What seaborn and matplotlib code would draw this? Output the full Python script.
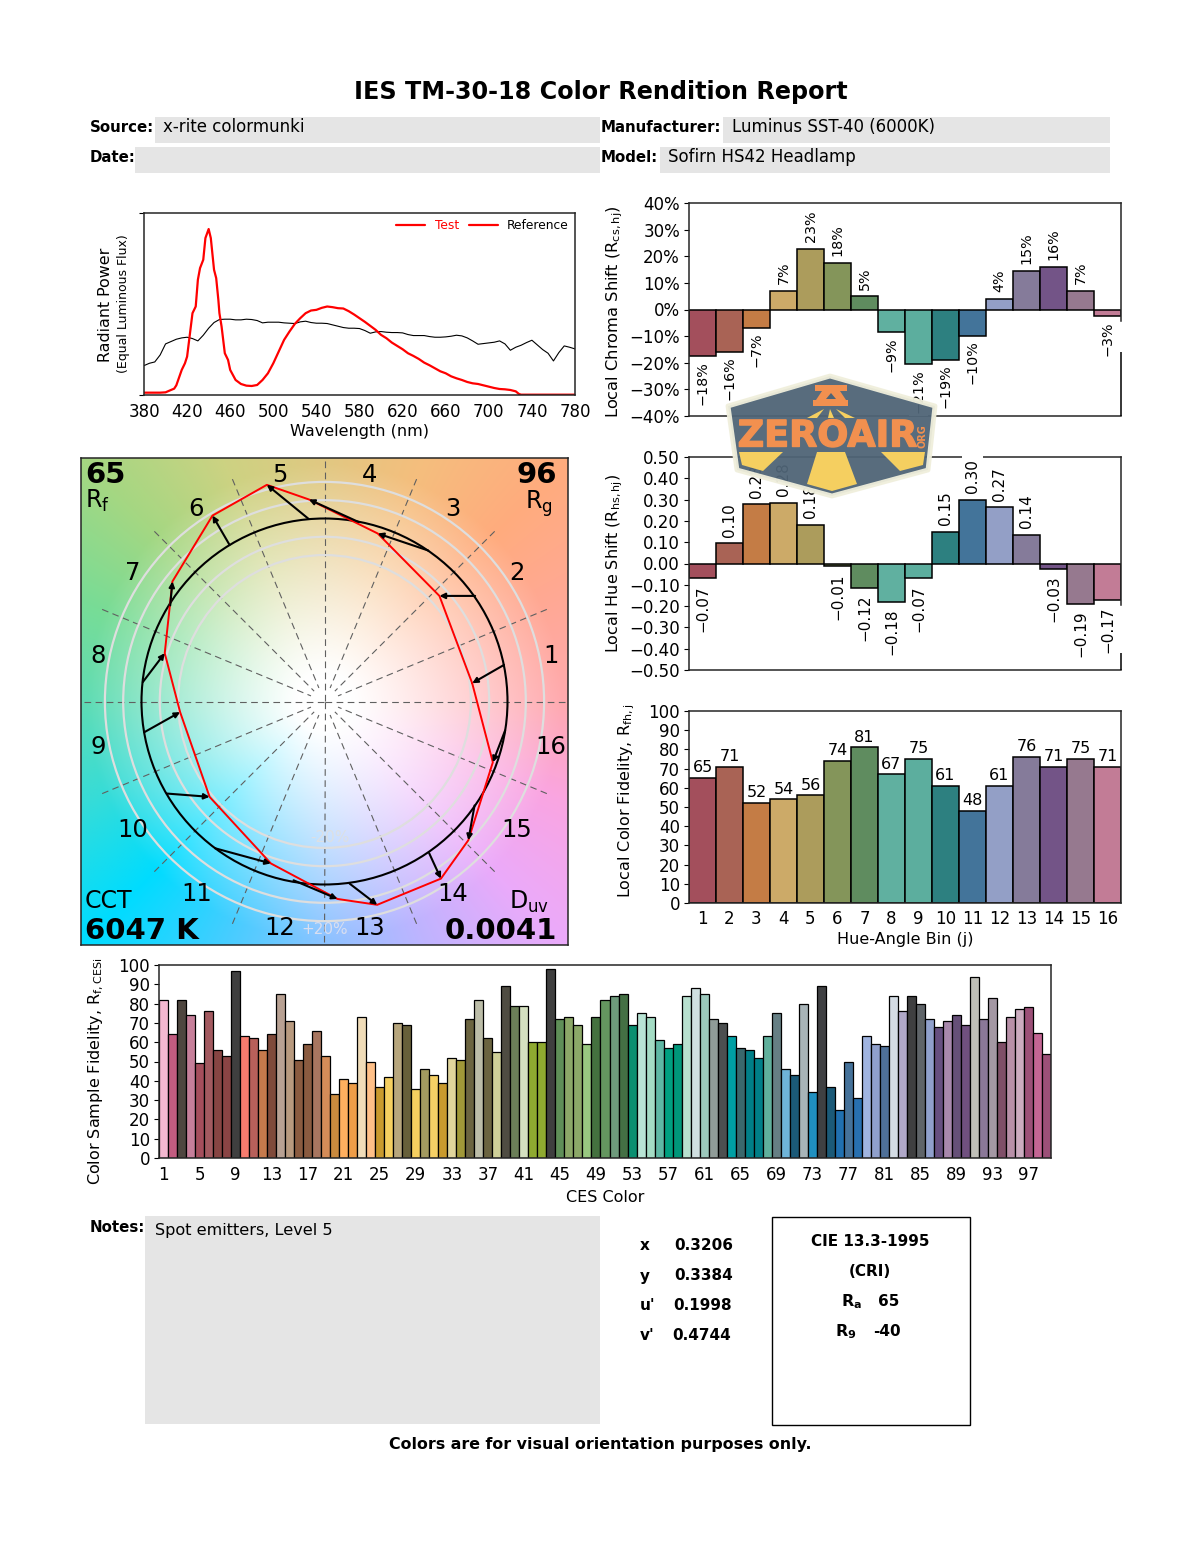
import matplotlib
matplotlib.use('Agg')
import matplotlib.pyplot as plt
import matplotlib.patheffects as pe
from matplotlib.lines import Line2D
from matplotlib.patches import Circle, Polygon, Rectangle
import numpy as np
import pandas as pd
import seaborn as sns

# spectrum, power in arbitrary units
test_wl = [380, 385, 390, 395, 400, 405, 408, 410, 415, 418, 420, 425, 428, 430, 432, 435, 437, 440, 442, 445,
           447, 449, 450, 452, 455, 458, 460, 465, 470, 475, 480, 485, 490, 495, 500, 505, 510, 515, 520, 525,
           530, 535, 540, 545, 550, 555, 560, 565, 570, 575, 580, 585, 590, 595, 600, 605, 610, 615, 620, 625,
           630, 635, 640, 645, 650, 655, 660, 665, 670, 675, 680, 685, 690, 695, 700, 705, 710, 715, 720, 725,
           728, 730, 740, 750, 760, 770, 780]
test_power = [7, 7, 7, 7, 8, 15, 19, 29, 75, 95, 115, 245, 265, 345, 380, 405, 470, 497, 470, 375,
              350, 285, 245, 205, 125, 105, 75, 45, 33, 28, 27, 30, 45, 65, 95, 130, 165, 190, 213, 230,
              245, 253, 255, 261, 265, 263, 260, 259, 251, 241, 230, 219, 207, 195, 180, 170, 157, 147, 137, 125,
              117, 108, 97, 89, 80, 71, 65, 56, 50, 45, 39, 35, 33, 29, 25, 21, 18, 17, 15, 11,
              3, 1, 1, 1, 1, 1, 1]
ref_wl = list(range(380, 785, 5))
ref_power = [88, 95, 99, 120, 153, 160, 167, 171, 173, 169, 162, 179, 200, 217, 226, 227, 227, 225, 225, 227,
             226, 223, 216, 218, 218, 218, 216, 215, 214, 219, 221, 217, 215, 215, 214, 210, 206, 202, 200, 200,
             199, 193, 185, 189, 190, 188, 187, 187, 186, 181, 178, 178, 178, 175, 173, 173, 174, 176, 179, 177,
             171, 162, 152, 154, 156, 158, 162, 153, 134, 143, 149, 157, 164, 150, 136, 125, 102, 127, 147, 143, 138]
wl_ticks = list(range(380, 820, 40))

# hue-angle bins
bin_labels = [str(i) for i in range(1, 17)]
bin_colors = ['#A34F5C', '#A96355', '#C47C45', '#CCAA68', '#AC9C5C', '#84955A', '#5F8C5F', '#60B0A0',
              '#5CAE9E', '#2D8080', '#43749A', '#939FC6', '#857B9A', '#735487', '#96798F', '#C27C96']
chroma_shift = [-17.6, -15.8, -6.8, 6.8, 22.9, 17.6, 4.9, -8.6, -20.6, -18.8, -9.8, 3.8, 14.6, 15.8, 6.8, -2.6]
chroma_text = ['\u221218%', '\u221216%', '\u22127%', '7%', '23%', '18%', '5%', '\u22129%',
               '\u221221%', '\u221219%', '\u221210%', '4%', '15%', '16%', '7%', '\u22123%']
hue_shift = [-0.07, 0.094, 0.277, 0.282, 0.183, -0.014, -0.113, -0.179,
             -0.07, 0.146, 0.30, 0.263, 0.136, -0.024, -0.188, -0.17]
hue_text = ['\u22120.07', '0.10', '0.28', '0.28', '0.18', '\u22120.01', '\u22120.12', '\u22120.18',
            '\u22120.07', '0.15', '0.30', '0.27', '0.14', '\u22120.03', '\u22120.19', '\u22120.17']
fidelity_bins = [65, 71, 52, 54, 56, 74, 81, 67, 75, 61, 48, 61, 76, 71, 75, 71]

# CES samples
ces_labels = [str(i) for i in range(1, 100)]
ces_values = [82, 64, 82, 74, 49, 76, 56, 53, 97, 63, 62, 56, 64, 85, 71, 51, 59, 66, 53, 33,
              41, 39, 73, 50, 37, 42, 70, 69, 36, 46, 43, 39, 52, 51, 72, 82, 62, 55, 89, 79,
              79, 60, 60, 98, 72, 73, 69, 59, 73, 82, 84, 85, 69, 75, 73, 61, 57, 59, 84, 88,
              85, 72, 70, 63, 57, 56, 52, 63, 75, 46, 43, 80, 34, 89, 37, 25, 50, 31, 63, 59,
              58, 84, 76, 84, 80, 72, 68, 71, 74, 69, 94, 72, 83, 60, 73, 77, 78, 65, 54]
ces_colors = ['#F4B8D0', '#C25C80', '#4E463F', '#C67F9A', '#A54E5C', '#A35A60', '#874543', '#8A4444', '#3F3F3F',
              '#F77C6E', '#B8605A', '#C67A4C', '#7F4A3A', '#B8A193', '#B89A7F', '#8A5B40', '#8A5B40', '#A87660',
              '#D58C58', '#C98A3E', '#FFB05F', '#EE9D48', '#F0DCB8', '#FFC088', '#C99A2D', '#F5CF60', '#B7A67D',
              '#67603A', '#F5CF60', '#A39A60', '#F5D065', '#C99A2D', '#E0D59C', '#A09838', '#6B6440', '#BCBDA8',
              '#6B6440', '#CFD098', '#4F4C42', '#6B7F58', '#D4E0C0', '#8FAA30', '#8FAA30', '#3F3F3F', '#5F8F58',
              '#8CA868', '#8CA868', '#98C880', '#44713F', '#64965F', '#6E9A7C', '#447044', '#0A8F70', '#B8E4D4',
              '#A4DCC4', '#5FB8A4', '#00A080', '#00977A', '#B8E0CF', '#D0DFE0', '#9CC8BC', '#909C98', '#4C4F50',
              '#00A0A4', '#3A686C', '#007F88', '#007F88', '#60B09C', '#667F84', '#6FB4D8', '#1B5A78', '#A8B4B8',
              '#2090C0', '#3F4042', '#1B5A78', '#2070B0', '#45729A', '#2870B0', '#A0B4E0', '#90A0CC', '#4F7098',
              '#D4DCE4', '#B0A8C8', '#3F3F40', '#5F6468', '#90A0CC', '#664F80', '#A888AC', '#665078', '#70507F',
              '#C0C0B8', '#8B7898', '#A498A4', '#7F4F68', '#B890A8', '#CCACC0', '#9C5078', '#C46694', '#9C5078']

# colour vector graphic, radius 1 = reference
ref_x = [0.981, 0.823, 0.567, 0.186, -0.087, -0.519, -0.843, -0.993,
         -0.985, -0.862, -0.598, -0.169, 0.137, 0.572, 0.820, 0.987]
ref_y = [0.200, 0.577, 0.825, 0.981, 0.998, 0.856, 0.525, 0.106,
         -0.168, -0.503, -0.802, -0.977, -0.995, -0.829, -0.568, -0.158]
test_x = [0.807, 0.628, 0.291, -0.085, -0.315, -0.612, -0.831, -0.873,
          -0.789, -0.628, -0.293, 0.071, 0.288, 0.636, 0.786, 0.920]
test_y = [0.100, 0.577, 0.918, 1.104, 1.184, 1.016, 0.656, 0.264,
          -0.058, -0.521, -0.885, -1.079, -1.111, -0.968, -0.758, -0.332]
bg_angles = [0, 22.5, 45, 67.5, 90, 112.5, 135, 157.5, 180, 202.5, 225, 247.5, 270, 292.5, 315, 337.5, 360]
bg_colors = [(255, 170, 175), (255, 168, 150), (255, 172, 125), (245, 190, 125), (225, 200, 130), (205, 210, 130),
             (165, 215, 130), (120, 220, 150), (95, 220, 180), (55, 220, 215), (0, 220, 255), (70, 205, 255),
             (140, 195, 255), (190, 180, 255), (235, 170, 250), (250, 165, 225), (255, 170, 175)]

sns.set_style('ticks')
plt.rcParams['font.family'] = ['DejaVu Sans']
plt.rcParams['mathtext.default'] = 'regular'
plt.rcParams['axes.linewidth'] = 1.1
plt.rcParams['xtick.labelsize'] = 12
plt.rcParams['ytick.labelsize'] = 12
plt.rcParams['axes.labelsize'] = 11.5
plt.rcParams['axes.labelcolor'] = 'black'
plt.rcParams['xtick.color'] = 'black'
plt.rcParams['ytick.color'] = 'black'
plt.rcParams['text.color'] = 'black'

W, H = 1200, 1550
fig = plt.figure(figsize=(W / 100, H / 100), dpi=100, facecolor='white')


def px_axes(left, top, right, bottom, **kw):
    return fig.add_axes([left / W, 1 - bottom / H, (right - left) / W, (bottom - top) / H], **kw)


# page layer: header boxes and free text
page = px_axes(0, 0, W, H)
page.set_xlim(0, W)
page.set_ylim(H, 0)
page.axis('off')
for x0, y0, x1, y1 in [(155, 117, 600, 143), (723, 117, 1110, 143), (135, 147, 600, 173),
                       (660, 147, 1110, 173), (145, 1216, 600, 1424)]:
    page.add_patch(Rectangle((x0, y0), x1 - x0, y1 - y0, fc='#E5E5E5', ec='none'))
page.add_patch(Rectangle((771.5, 1216.5), 198, 208, fc='none', ec='black', lw=1))


def put(x, y, s, size=10.8, bold=True, ha='left'):
    page.text(x, y, s, fontsize=size, fontweight='bold' if bold else 'normal', ha=ha, va='center')


put(600.5, 92, 'IES TM-30-18 Color Rendition Report', size=17.2, ha='center')
put(90, 127, 'Source:')
put(163, 127, 'x-rite colormunki', bold=False, size=12)
put(601, 127, 'Manufacturer:')
put(732, 127, 'Luminus SST-40 (6000K)', bold=False, size=12)
put(90, 157, 'Date:')
put(601, 157, 'Model:')
put(668, 157, 'Sofirn HS42 Headlamp', bold=False, size=12)
put(90, 1227, 'Notes:')
put(155, 1231, 'Spot emitters, Level 5', bold=False, size=11.6)
for ty, name, val, vx in [(1246, 'x', '0.3206', 674), (1276, 'y', '0.3384', 674),
                          (1306, "u'", '0.1998', 673), (1336, "v'", '0.4744', 672)]:
    put(640, ty, name, size=11)
    put(vx, ty, val, size=11)
put(870, 1241, 'CIE 13.3-1995', size=11, ha='center')
put(870, 1271, '(CRI)', size=11, ha='center')
put(841, 1302, r'$\mathbf{R_a}$', size=11.5)
put(878, 1301, '65', size=11)
put(835, 1332, r'$\mathbf{R_9}$', size=11.5)
put(873, 1331, '-40', size=11)
put(600.5, 1445, 'Colors are for visual orientation purposes only.', size=11.4, ha='center')

# spectrum
ax = px_axes(144, 213, 575, 395)
sns.lineplot(x=ref_wl, y=ref_power, color='black', lw=0.8, ax=ax)
sns.lineplot(x=test_wl, y=test_power, color='red', lw=1.6, ax=ax)
ax.set_xlim(380, 780)
ax.set_ylim(0, 545)
ax.set_xticks(wl_ticks)
ax.set_yticks([0, 545])
ax.set_yticklabels([])
ax.tick_params(axis='x', length=0, pad=6)
ax.tick_params(axis='y', length=3.5)
ax.set_xlabel('Wavelength (nm)', labelpad=2)
leg = ax.legend(handles=[Line2D([], [], color='red', lw=1.6), Line2D([], [], color='red', lw=1.6)],
                labels=['Test', 'Reference'], ncol=2, frameon=False, fontsize=8.8, loc='upper right',
                handlelength=2.4, handletextpad=0.75, columnspacing=0.8, borderaxespad=0.1)
leg.get_texts()[0].set_color('red')
page.text(105, 305, 'Radiant Power', rotation=90, fontsize=11.4, ha='center', va='center')
page.text(123, 304, '(Equal Luminous Flux)', rotation=90, fontsize=9, ha='center', va='center')

# colour vector graphic
ax = px_axes(81, 458, 568, 945)
lim = 243.5 / 183
grid_y, grid_x = np.mgrid[-lim:lim:500j, -lim:lim:500j]
radius = np.hypot(grid_x, grid_y)
angle = np.degrees(np.arctan2(grid_y, grid_x)) % 360
blend = np.clip((radius - 0.15) / 1.15, 0, 1) ** 1.1
image = np.zeros(radius.shape + (3,))
for c in range(3):
    edge = np.interp(angle, bg_angles, [col[c] / 255 for col in bg_colors])
    image[..., c] = 1 + (edge - 1) * blend
ax.imshow(image, extent=(-lim, lim, -lim, lim), origin='lower', interpolation='bilinear', aspect='equal')
for k in range(16):
    a = np.radians(k * 22.5)
    start = 0.0 if k % 4 == 0 else 0.08
    ax.plot([1.315 * np.cos(a), start * np.cos(a)], [1.315 * np.sin(a), start * np.sin(a)],
            color='#606060', lw=0.8, ls=(0, (6, 4)), zorder=2)
for r in [0.8, 0.9, 1.1, 1.2]:
    ax.add_patch(Circle((0, 0), r, fc='none', ec='#DEDEDE', lw=1.6, zorder=3))
ax.add_patch(Circle((0, 0), 1, fc='none', ec='black', lw=1.5, zorder=4))
sns.lineplot(x=test_x + test_x[:1], y=test_y + test_y[:1], sort=False, estimator=None,
             color='red', lw=1.4, ax=ax, zorder=5)
for i in range(16):
    ax.annotate('', xy=(test_x[i], test_y[i]), xytext=(ref_x[i], ref_y[i]), zorder=6,
                arrowprops=dict(arrowstyle='-|>,head_width=0.16,head_length=0.32', color='black',
                                lw=1.5, shrinkA=0, shrinkB=0))
for i, label in enumerate(bin_labels):
    a = np.radians(11.25 + 22.5 * i)
    ax.text(1.262 * np.cos(a), 1.262 * np.sin(a), label, fontsize=17.5, ha='center', va='center', zorder=7)
ax.set_xlim(-lim, lim)
ax.set_ylim(-lim, lim)
ax.set_xticks([])
ax.set_yticks([])
page_over = px_axes(0, 0, W, H, zorder=5)
page_over.set_xlim(0, W)
page_over.set_ylim(H, 0)
page_over.axis('off')
page_over.text(85, 475, '65', fontsize=21, fontweight='bold', va='center')
page_over.text(85, 501, r'R$_{f}$', fontsize=17, va='center')
page_over.text(557, 475, '96', fontsize=21, fontweight='bold', va='center', ha='right')
page_over.text(553, 504, r'R$_{g}$', fontsize=17, va='center', ha='right')
page_over.text(85, 901, 'CCT', fontsize=17, va='center')
page_over.text(85, 931, '6047 K', fontsize=21, fontweight='bold', va='center')
page_over.text(549, 902, r'D$_{uv}$', fontsize=17, va='center', ha='right')
page_over.text(557, 931, '0.0041', fontsize=21, fontweight='bold', va='center', ha='right')
page_over.text(330, 837, '-20%', fontsize=11, color='#DCE0E4', va='center', ha='center')
page_over.text(325, 929, '+20%', fontsize=11, color='#D8DEF0', va='center', ha='center')


def bin_bars(ax, values):
    frame = pd.DataFrame({'bin': bin_labels, 'value': values})
    sns.barplot(data=frame, x='bin', y='value', hue='bin', palette=bin_colors, legend=False, width=1,
                saturation=1, edgecolor='black', linewidth=1.1, ax=ax)
    ax.set_xlim(-0.5, 15.5)
    ax.set_xlabel('')
    ax.tick_params(axis='y', length=3.5, pad=3)


def rotated_labels(ax, values, texts, size, down):
    for i, (v, s) in enumerate(zip(values, texts)):
        ax.annotate(s, xy=(i, v), xytext=(0, 5 if v >= 0 else -down), textcoords='offset points',
                    rotation=90, ha='center', va='bottom' if v >= 0 else 'top', fontsize=size,
                    annotation_clip=False, zorder=4,
                    bbox=dict(fc='white', ec='none', pad=2))


def break_right_spine(ax, ymin, gap_low, gap_high, ymax):
    # the last label blanks a piece of the right frame
    ax.spines['right'].set_bounds(gap_high, ymax)
    ax.vlines(15.5, ymin, gap_low, color='black', lw=1.1, clip_on=False, zorder=5)


# chroma shift
ax = px_axes(689, 203, 1121, 416)
bin_bars(ax, chroma_shift)
ax.set_ylim(-40, 40)
ax.set_yticks(range(-40, 50, 10))
ax.set_yticklabels([f'{t}%'.replace('-', '\u2212') for t in range(-40, 50, 10)])
ax.set_xticks([])
ax.set_ylabel(r'Local Chroma Shift (R$_{cs,hj}$)', fontsize=11.7)
ax.yaxis.set_label_coords((625 - 689) / 432, 0.49)
rotated_labels(ax, chroma_shift, chroma_text, 10.3, 3.5)
break_right_spine(ax, -40, -16.1, -4.5, 40)

# hue shift
ax = px_axes(689, 457, 1121, 670)
bin_bars(ax, hue_shift)
ax.set_ylim(-0.5, 0.5)
ax.set_yticks(np.arange(-5, 6) / 10)
ax.set_yticklabels([f'{t / 10:.2f}'.replace('-', '\u2212') for t in range(-5, 6)])
ax.set_xticks([])
ax.set_ylabel(r'Local Hue Shift (R$_{hs,hj}$)')
ax.yaxis.set_label_coords((625 - 689) / 432, 0.5)
rotated_labels(ax, hue_shift, hue_text, 11, 5)
break_right_spine(ax, -0.5, -0.42, -0.195, 0.5)

# local fidelity
ax = px_axes(689, 711, 1121, 903)
bin_bars(ax, fidelity_bins)
ax.set_ylim(0, 100)
ax.set_yticks(range(0, 110, 10))
ax.tick_params(axis='x', length=0, pad=5)
ax.set_xlabel('Hue-Angle Bin (j)', labelpad=3)
ax.set_ylabel(r'Local Color Fidelity, R$_{fh,j}$')
ax.yaxis.set_label_coords((637 - 689) / 432, 0.53)
for i, v in enumerate(fidelity_bins):
    ax.annotate(str(v), xy=(i, v), xytext=(0, 2), textcoords='offset points', ha='center', va='bottom',
                fontsize=11.5, annotation_clip=False)

# CES samples
ax = px_axes(159, 965, 1051, 1158)
frame = pd.DataFrame({'ces': ces_labels, 'value': ces_values})
sns.barplot(data=frame, x='ces', y='value', hue='ces', palette=ces_colors, legend=False, width=1,
            saturation=1, edgecolor='black', linewidth=0.9, ax=ax)
ax.set_xlim(-0.5, 98.5)
ax.set_ylim(0, 100)
ax.set_yticks(range(0, 110, 10))
ax.set_xticks(range(0, 99, 4))
ax.set_xticklabels(ces_labels[::4], fontsize=12)
ax.tick_params(axis='x', length=0, pad=6)
ax.tick_params(axis='y', length=3.5, pad=3)
ax.set_xlabel('CES Color', labelpad=4)
ax.set_ylabel(r'Color Sample Fidelity, R$_{f,CESi}$')
ax.yaxis.set_label_coords((106 - 159) / 892, 0.448)

# watermark badge on top of the page
logo = px_axes(0, 0, W, H, zorder=10)
logo.set_xlim(0, W)
logo.set_ylim(H, 0)
logo.axis('off')
orange, yellow, slate = '#F2904F', '#F5CF60', '#4F6476'
logo.add_patch(Polygon([(830, 376), (935, 406), (928, 470), (832, 496), (737, 470), (728, 406)],
                       fc=slate, ec='#F0EFDC', lw=3.5, joinstyle='round', alpha=0.95))
for pts in [[(815, 385), (847, 385), (847, 391), (815, 391)], [(813, 400), (848, 400), (848, 406), (813, 406)],
            [(822, 391), (840, 391), (846, 400), (816, 400)]]:
    logo.add_patch(Polygon(pts, fc=orange, ec='none'))
logo.add_patch(Polygon([(826, 399), (836, 399), (831, 393)], fc=slate, ec='none'))
for pts in [[(807, 418), (824, 409), (817, 418)], [(828, 418), (830, 409), (834, 418)],
            [(836, 409), (855, 418), (845, 418)],
            [(739, 452), (783, 452), (763, 471), (742, 465)], [(817, 452), (845, 452), (857, 484), (832, 491), (807, 484)],
            [(881, 452), (925, 452), (923, 465), (900, 471)]]:
    logo.add_patch(Polygon(pts, fc=yellow, ec='none'))
logo.text(827.5, 436, 'ZEROAIR', fontsize=26.3, fontweight='bold', color=orange, ha='center', va='center',
          path_effects=[pe.withStroke(linewidth=1, foreground=orange)])
logo.text(922, 436, 'ORG', fontsize=7, fontweight='bold', color=orange, rotation=90, ha='center', va='center')

fig.savefig('out.png', dpi=100)
